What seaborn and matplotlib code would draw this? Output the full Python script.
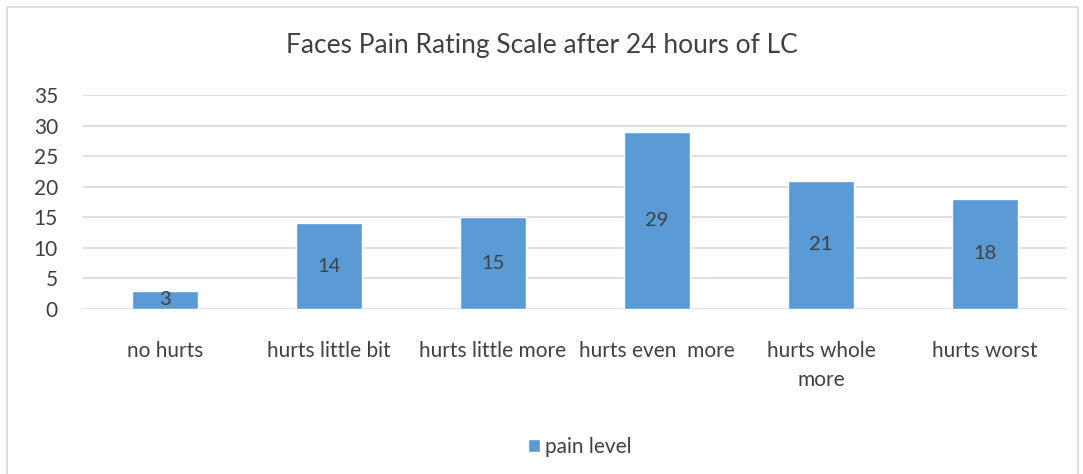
import matplotlib
matplotlib.use("Agg")
import matplotlib.pyplot as plt
import seaborn as sns
import pandas as pd
from matplotlib.patches import Patch, Rectangle

# data
categories = ["no hurts", "hurts little bit", "hurts little more",
              "hurts even  more", "hurts whole\nmore", "hurts worst"]
pain_level = [3, 14, 15, 29, 21, 18]
yticks = [0, 5, 10, 15, 20, 25, 30, 35]

df = pd.DataFrame({"category": categories, "pain level": pain_level})

sns.set_style("white")
plt.rcParams["font.family"] = ["Lato", "DejaVu Sans"]

bar_color = "#5b9bd5"
text_color = "#404040"

fig = plt.figure(figsize=(10.83, 4.74), dpi=100)
# outer chart frame
fig.patches.append(Rectangle((7 / 1083, -0.01), 1071 / 1083, 1 - 7 / 474 + 0.01,
                             transform=fig.transFigure, fill=False,
                             edgecolor="#d9d9d9", linewidth=1.2))

ax = fig.add_axes([83 / 1083, 1 - 309 / 474, 984 / 1083, 214 / 474])
sns.barplot(data=df, x="category", y="pain level", color=bar_color,
            width=0.4, saturation=1, ax=ax)

ax.set_ylim(0, 35)
ax.set_yticks(yticks)
ax.set_xlim(-0.5, len(categories) - 0.5)
ax.yaxis.grid(True, color="#d9d9d9", linewidth=1.2)
ax.set_axisbelow(True)
for s in ax.spines.values():
    s.set_visible(False)
ax.tick_params(axis="both", length=0, colors=text_color)
ax.tick_params(axis="x", pad=23, labelsize=15)
ax.tick_params(axis="y", pad=18, labelsize=15)
for lbl in ax.get_xticklabels():
    lbl.set_linespacing(1.55)
ax.set_xlabel("")
ax.set_ylabel("")

for i, v in enumerate(pain_level):
    ax.text(i, v / 2, str(v), ha="center", va="center",
            fontsize=14.5, color=text_color)

fig.text(0.5, 1 - 45 / 474, "Faces Pain Rating Scale after 24 hours of LC",
         ha="center", va="center", fontsize=19, color=text_color)

handles = [Patch(facecolor=bar_color, label="pain level")]
fig.legend(handles=handles, loc="center", bbox_to_anchor=(580 / 1083, 1 - 447 / 474),
           frameon=False, fontsize=15, handlelength=0.55, handleheight=0.55,
           handletextpad=0.25, labelcolor=text_color)

fig.savefig("out.png", dpi=100)
